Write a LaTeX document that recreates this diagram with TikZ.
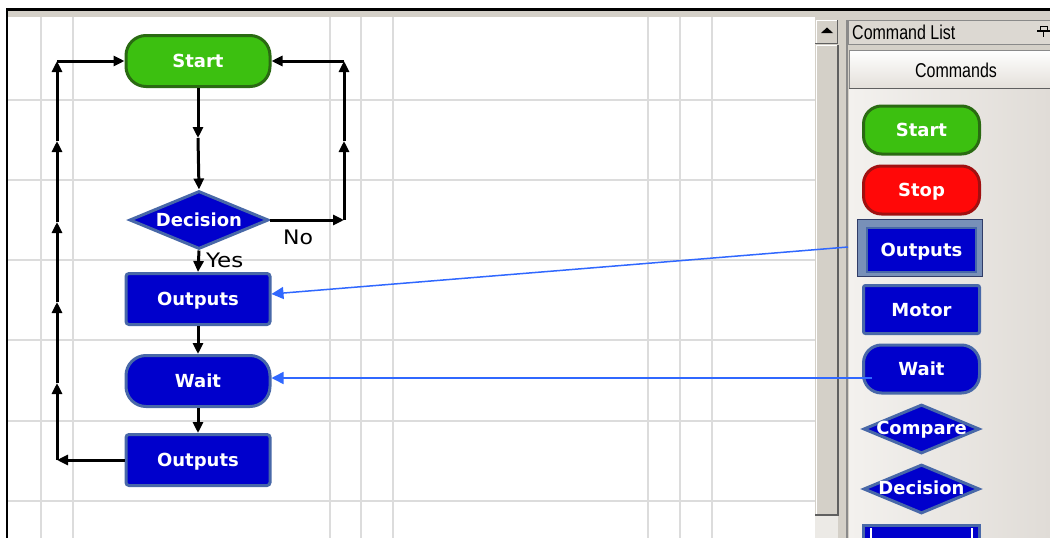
\documentclass[tikz,border=0pt]{standalone}
\usepackage{fontspec}
\setmainfont{DejaVu Sans}
\newfontfamily\uifont{Liberation Sans}
\usepackage{graphicx}
\usetikzlibrary{arrows.meta,shapes.geometric}
\definecolor{gridc}{HTML}{DCDCDC}
\definecolor{winbg}{HTML}{D4D0C8}
\definecolor{gfill}{HTML}{3CC010}
\definecolor{gline}{HTML}{2A6A12}
\definecolor{bfill}{HTML}{0000CC}
\definecolor{bline}{HTML}{4868A8}
\definecolor{rfill}{HTML}{FF0808}
\definecolor{rline}{HTML}{A01010}
\definecolor{barrow}{HTML}{3068FF}
\definecolor{selframe}{HTML}{7890B8}
\definecolor{seledge}{HTML}{303C68}
\definecolor{barbg}{HTML}{DCD8D2}
\definecolor{edgegray}{HTML}{8A8A8A}
\definecolor{darkedge}{HTML}{606060}
\definecolor{hdrbot}{HTML}{E4E0DA}
\definecolor{panl}{HTML}{F3F1EE}
\definecolor{panr}{HTML}{E0DCD7}
\definecolor{dotbg}{HTML}{ECEAE6}
\begin{document}
\begin{tikzpicture}[x=1pt,y=-1pt,
  btxt/.style={font=\fontsize{18}{20}\selectfont\bfseries, text=white, inner sep=0pt, text height=13pt, text depth=0pt},
  term/.style={btxt, rectangle, rounded corners=20pt, minimum width=144pt, minimum height=51pt, line width=3pt},
  greenterm/.style={term, fill=gfill, draw=gline},
  bterm/.style={term, fill=bfill, draw=bline},
  proc/.style={btxt, rectangle, rounded corners=3pt, fill=bfill, draw=bline, line width=3pt, minimum width=144pt, minimum height=51pt},
  dia/.style={btxt, diamond, aspect=2.4, fill=bfill, draw=bline, line width=3pt, minimum width=139pt, minimum height=58pt},
  pterm/.style={btxt, rectangle, rounded corners=18pt, minimum width=116pt, minimum height=48pt, line width=3pt},
  pproc/.style={btxt, rectangle, rounded corners=2pt, fill=bfill, draw=bline, line width=3pt, minimum width=116pt, minimum height=48pt},
  pdia/.style={btxt, text height=10pt, diamond, aspect=2.37, fill=bfill, draw=bline, line width=3pt, minimum width=116pt, minimum height=49pt},
  lbl/.style={font=\fontsize{20}{22}\selectfont, inner sep=0pt, anchor=west},
  arr/.style={line width=3pt, -{Triangle[length=11pt,width=10pt]}},
  barr/.style={draw=barrow, line width=1.5pt, -{Triangle[length=12pt,width=12pt]}},
  gridline/.style={draw=gridc, line width=1.5pt}
]
\useasboundingbox (0,0) rectangle (1050,538);
\fill[white] (0,0) rectangle (1050,538);
% canvas grid
\foreach \x in {41,73,330,361,393,648,680,712} \draw[gridline] (\x,17) -- (\x,538);
\foreach \y in {100,180,260,340,421,501} \draw[gridline] (8,\y) -- (815,\y);
\fill[winbg] (7,10) rectangle (815,17);
% right window area
\fill[winbg] (815,10) rectangle (1050,538);
% scrollbar
\draw[white, line width=1pt] (816,44) -- (816,20.5) -- (837,20.5);
\draw[darkedge, line width=1pt] (815,43.5) -- (837.5,43.5) -- (837.5,20);
\fill[black] (821,33) -- (833,33) -- (827,27.5) -- cycle;
\draw[white, line width=1pt] (816,515) -- (816,45) -- (837,45);
\draw[darkedge, line width=2pt] (815,514.5) -- (838,514.5) -- (838,45);
\fill[dotbg] (815,516) rectangle (838,538);
% panel
\draw[edgegray, line width=1.5pt] (847,20) -- (847,538);
\fill[barbg] (848,20) rectangle (1050,44);
\draw[edgegray, line width=1pt] (848,44) -- (848,20.5) -- (1050,20.5);
\draw[edgegray, line width=1pt] (848,44) -- (1050,44);
\node[anchor=west, inner sep=0pt, font=\uifont\fontsize{20}{22}\selectfont] (cl) at (852,32) {\scalebox{0.8}[1]{Command List}};
\draw[black, line width=1pt] (1040,26) rectangle (1047,31);
\draw[black, line width=1.2pt] (1037,31) -- (1050,31);
\draw[black, line width=1.2pt] (1043.5,31) -- (1043.5,37);
\shade[top color=white, bottom color=hdrbot] (849,50) rectangle (1050,88);
\draw[edgegray, line width=1pt] (849,88) -- (849,50) -- (1050,50);
\draw[darkedge, line width=1pt] (849,88) -- (1050,88);
\node[inner sep=0pt, font=\uifont\fontsize{20}{22}\selectfont] (cmds) at (956,70) {\scalebox{0.8}[1]{Commands}};
\shade[left color=panl, right color=panr] (849,89) rectangle (1050,538);
% panel buttons
\node[pterm, fill=gfill, draw=gline] (pstart) at (921.5,130) {Start};
\node[pterm, fill=rfill, draw=rline] (pstop) at (921.5,190) {Stop};
\node[rectangle, fill=selframe, draw=seledge, line width=1.5pt, minimum width=125pt, minimum height=57pt] (psel) at (920,248) {};
\node[btxt, rectangle, fill=bfill, draw=bline, line width=1.5pt, minimum width=109pt, minimum height=44pt] (pout) at (921.5,250) {Outputs};
\node[pproc] (pmotor) at (921.5,309.5) {Motor};
\node[pterm, fill=bfill, draw=bline] (pwait) at (921.5,369) {Wait};
\node[pdia] (pcomp) at (921.5,429) {Compare};
\node[pdia] (pdec) at (921.5,489) {Decision};
\node[rectangle, fill=bfill, draw=bline, line width=3pt, minimum width=116pt, minimum height=40pt] (pbox) at (921.5,545) {};
\draw[white, line width=1.5pt] (871,528) -- (871,545);
\draw[white, line width=1.5pt] (972,528) -- (972,545);
% flowchart
\node[greenterm] (start) at (198,61) {Start};
\node[dia] (dec) at (199,220) {Decision};
\node[proc] (o1) at (198,299) {Outputs};
\node[bterm] (wait) at (198,381) {Wait};
\node[proc] (o2) at (198,460) {Outputs};
\node[lbl] (yes) at (206,260) {\scalebox{1.15}[1]{Yes}};
\node[lbl] (no) at (283,237) {\scalebox{1.1}[1]{No}};
\coordinate (m1) at (198,138);
\draw[arr] (start.south) -- (m1);
\draw[arr] (m1) -- (dec.north);
\draw[arr] (dec.south) -- (o1.north);
\draw[arr] (o1.south) -- (wait.north);
\draw[arr] (wait.south) -- (o2.north);
\coordinate (r1) at (344,220);
\coordinate (r2) at (344,141);
\coordinate (r3) at (344,61);
\draw[arr] (dec.east) -- (r1);
\draw[arr] (r1) -- (r2);
\draw[arr] (r2) -- (r3);
\draw[arr] (r3) -- (start.east);
\coordinate (l1) at (57,460);
\coordinate (l2) at (57,383);
\coordinate (l3) at (57,302);
\coordinate (l4) at (57,222);
\coordinate (l5) at (57,141);
\coordinate (l6) at (57,61);
\draw[arr] (o2.west) -- (l1);
\draw[arr] (l1) -- (l2);
\draw[arr] (l2) -- (l3);
\draw[arr] (l3) -- (l4);
\draw[arr] (l4) -- (l5);
\draw[arr] (l5) -- (l6);
\draw[arr] (l6) -- (start.west);
% blue drag arrows
\coordinate (b1) at (848,247);
\coordinate (b2) at (872,378);
\draw[barr] (b1) -- ([yshift=5pt]o1.east);
\draw[barr] (b2) -- ([yshift=3pt]wait.east);
% frame
\draw[black, line width=2.5pt] (6,9.5) -- (1050,9.5);
\draw[black, line width=2.5pt] (7,8.5) -- (7,538);
\end{tikzpicture}
\end{document}
